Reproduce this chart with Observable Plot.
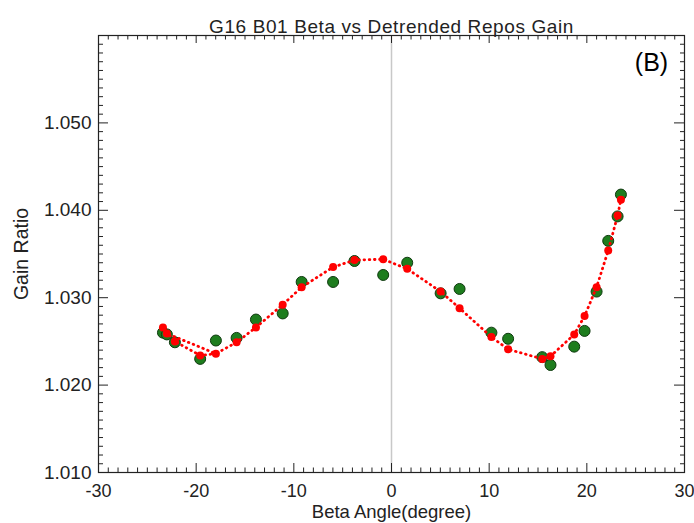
<!DOCTYPE html>
<html><head><meta charset="utf-8">
<script src="https://cdn.jsdelivr.net/npm/d3@7"></script>
<script src="https://cdn.jsdelivr.net/npm/@observablehq/plot@0.6"></script>
<style>body{margin:0;background:#fff;}</style>
</head><body><div id="chart"></div>
<script>
const title = "G16 B01 Beta vs Detrended Repos Gain";
const panelTag = "(B)";
const xLabel = "Beta Angle(degree)";
const yLabel = "Gain Ratio";

const betaAngle = [-23.4, -23.0, -22.18, -19.59, -17.98, -15.86, -13.88, -11.14, -9.2, -5.98, -3.79, -0.85, 1.61, 5.03, 6.97, 10.23, 11.94, 15.43, 16.28, 18.71, 19.77, 21.0, 22.19, 23.15, 23.49];
const gainGreen = [1.0260, 1.0258, 1.0249, 1.0230, 1.0251, 1.0254, 1.0275, 1.0282, 1.0318, 1.0318, 1.0342, 1.0326, 1.0340, 1.0305, 1.0310, 1.0260, 1.0253, 1.0232, 1.0223, 1.0244, 1.0262, 1.0307, 1.0365, 1.0393, 1.0418];
const gainRed = [1.0266, 1.0259, 1.0250, 1.0234, 1.0236, 1.0249, 1.0266, 1.0292, 1.0312, 1.0335, 1.0343, 1.0344, 1.0333, 1.0307, 1.0288, 1.0255, 1.0241, 1.0230, 1.0233, 1.0258, 1.0279, 1.0312, 1.0354, 1.0394, 1.0412];
const lineOrder = [4, 3, 2, 0, 1, 4, 5, 6, 7, 8, 9, 10, 11, 12, 13, 14, 15, 16, 17, 18, 19, 20, 21, 22, 23, 24];

const xTickLabels = [-30, -20, -10, 0, 10, 20, 30];
const yTickLabels = [1.010, 1.020, 1.030, 1.040, 1.050];
const xMinor = d3.range(-30, 31, 1).filter(v => v % 10 !== 0);
const yMajor = d3.range(1010, 1061, 10).map(v => v / 1000);
const yMinor = d3.range(1010, 1061, 1).filter(v => v % 10 !== 0).map(v => v / 1000);

const W = 694, H = 523, mt = 35, mb = 51, ml = 98, mr = 10;
const innerH = H - mt - mb, innerW = W - ml - mr;
const idx = d3.range(betaAngle.length);
const ink = "#222";

const chart = Plot.plot({
  width: W, height: H,
  marginTop: mt, marginBottom: mb, marginLeft: ml, marginRight: mr,
  style: {fontFamily: "'Liberation Sans', Arial, sans-serif", background: "#fff", overflow: "visible", color: ink},
  x: {domain: [-30, 30]},
  y: {domain: [1.010, 1.060]},
  marks: [
    Plot.ruleX([0], {stroke: "#c8c8c8", strokeWidth: 1.5}),
    // inward ticks
    Plot.tickX(xTickLabels, {x: d => d, insetTop: innerH - 9, stroke: ink}),
    Plot.tickX(xTickLabels, {x: d => d, insetBottom: innerH - 8, stroke: ink}),
    Plot.tickX(xMinor, {x: d => d, insetTop: innerH - 4.5, stroke: ink}),
    Plot.tickX(xMinor, {x: d => d, insetBottom: innerH - 4.5, stroke: ink}),
    Plot.tickY(yMajor, {y: d => d, insetRight: innerW - 10, stroke: ink}),
    Plot.tickY(yMajor, {y: d => d, insetLeft: innerW - 10, stroke: ink}),
    Plot.tickY(yMinor, {y: d => d, insetRight: innerW - 5, stroke: ink}),
    Plot.tickY(yMinor, {y: d => d, insetLeft: innerW - 4, stroke: ink}),
    Plot.frame({stroke: ink, strokeWidth: 1.2}),
    Plot.axisX({ticks: xTickLabels, tickSize: 0, tickPadding: 12, fontSize: 18, tickFormat: d => String(d), label: null, fill: ink}),
    Plot.axisY({ticks: yTickLabels, tickSize: 0, tickPadding: 7, fontSize: 19, tickFormat: d3.format(".3f"), label: null, fill: ink}),
    // data
    Plot.dot(idx, {x: i => betaAngle[i], y: i => gainGreen[i], r: 5.5, fill: "#1e7d1e", stroke: "#0f3a0f", strokeWidth: 1}),
    Plot.line(lineOrder, {x: i => betaAngle[i], y: i => gainRed[i], stroke: "#ff0000", strokeWidth: 2.8, strokeDasharray: "0.6,4.6", strokeLinecap: "round"}),
    Plot.dot(idx, {x: i => betaAngle[i], y: i => gainRed[i], r: 4, fill: "#ff0000"}),
    // texts
    Plot.text([title], {frameAnchor: "top", dy: -16, fontSize: 19, fill: ink, textAnchor: "middle"}),
    Plot.text([panelTag], {frameAnchor: "top-right", dx: -33, dy: 18, fontSize: 25, fill: "#000", textAnchor: "middle"}),
    Plot.text([xLabel], {frameAnchor: "bottom", dy: 45, fontSize: 18.5, fill: ink, textAnchor: "middle"}),
    Plot.text([yLabel], {frameAnchor: "left", dx: -77, rotate: -90, fontSize: 19.5, fill: ink, textAnchor: "middle"})
  ]
});
chart.querySelectorAll("text").forEach(t => { if (t.textContent === title) t.setAttribute("letter-spacing", "0.6"); });
document.getElementById("chart").appendChild(chart);
</script>
</body></html>
